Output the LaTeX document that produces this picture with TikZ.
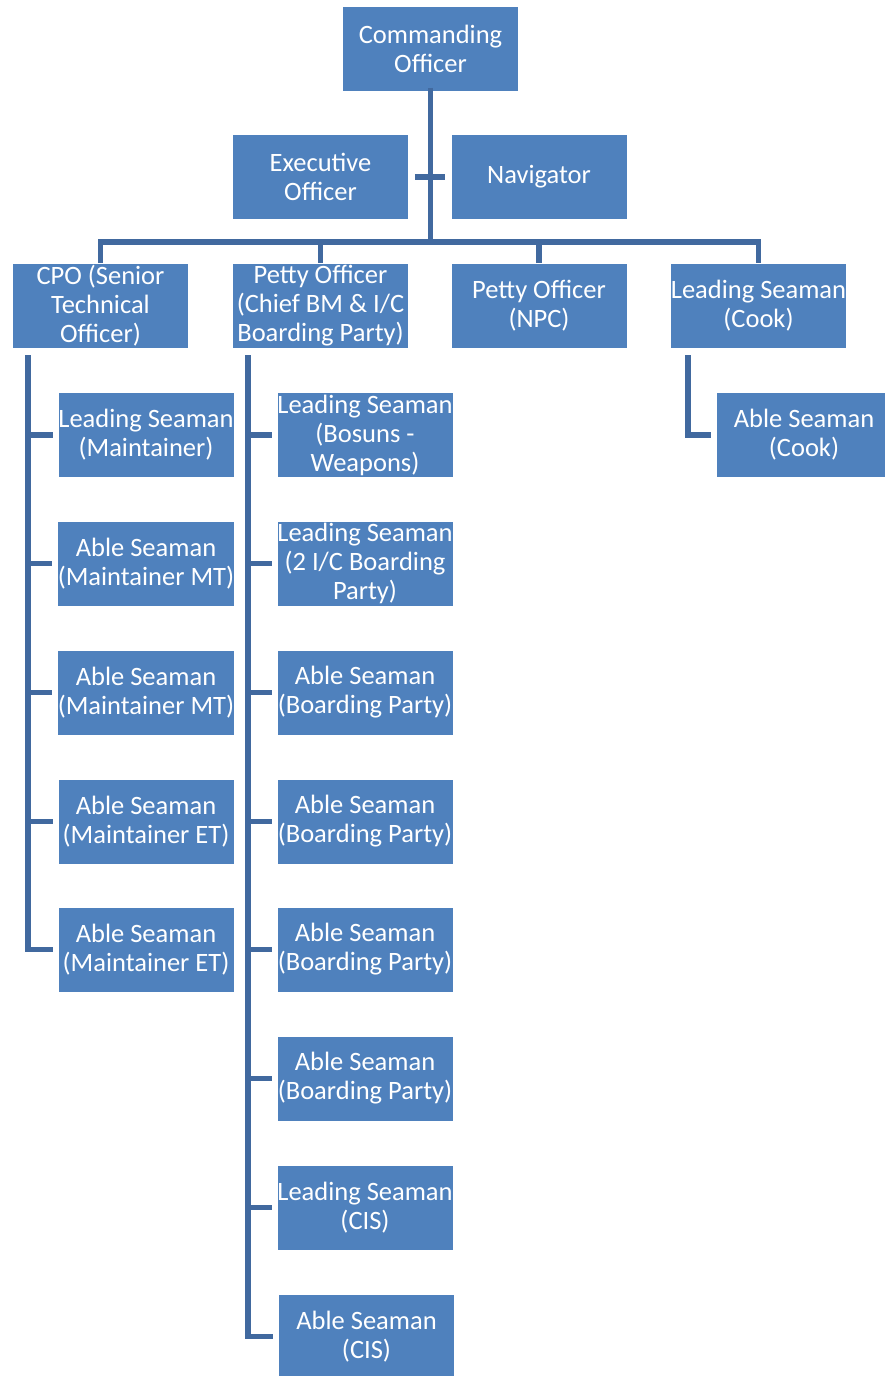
\documentclass[tikz,border=0pt]{standalone}
\usepackage{fontspec}
\setmainfont{Carlito}
\usetikzlibrary{positioning,calc}
\definecolor{rank}{HTML}{4F81BD}
\definecolor{link}{HTML}{41699F}

\begin{document}
\begin{tikzpicture}[x=1pt,y=-1pt,
  post/.style={draw=white,line width=0.6pt,fill=rank,text=white,
    minimum width=176pt,minimum height=85pt,inner sep=0pt,align=center,
    font=\fontsize{26.5}{29}\selectfont},
  wire/.style={draw=link,line width=5.5pt},
]
  \useasboundingbox (0,0) rectangle (884,1376);
  % command level
  \node[post] (co) at (430.5,49) {Commanding\\Officer};
  \node[post] (xo) at (320.5,177) {Executive\\Officer};
  \node[post] (nav) at (539,177) {Navigator};
  % department heads
  \node[post] (cpo) at (100.5,306) {CPO (Senior\\Technical\\Officer)};
  \node[post] (po) at (320.5,306) {Petty Officer\\(Chief BM \& I/C\\Boarding Party)};
  \node[post] (npc) at (539,306) {Petty Officer\\(NPC)};
  \node[post] (cook) at (758.5,306) {Leading Seaman\\(Cook)};
  % technical branch
  \node[post] (m1) at (146,435) {Leading Seaman\\(Maintainer)};
  \node[post] (m2) at (146,563.5) {Able Seaman\\(Maintainer MT)};
  \node[post] (m3) at (146,692.5) {Able Seaman\\(Maintainer MT)};
  \node[post] (m4) at (146,821.5) {Able Seaman\\(Maintainer ET)};
  \node[post] (m5) at (146,949.5) {Able Seaman\\(Maintainer ET)};
  % seamanship branch
  \node[post] (b1) at (365,435) {Leading Seaman\\(Bosuns -\\Weapons)};
  \node[post] (b2) at (365,563.5) {Leading Seaman\\(2 I/C Boarding\\Party)};
  \node[post] (b3) at (365,692.5) {Able Seaman\\(Boarding Party)};
  \node[post] (b4) at (365,821.5) {Able Seaman\\(Boarding Party)};
  \node[post] (b5) at (365,949.5) {Able Seaman\\(Boarding Party)};
  \node[post] (b6) at (365,1078.5) {Able Seaman\\(Boarding Party)};
  \node[post] (b7) at (365,1207.5) {Leading Seaman\\(CIS)};
  \node[post] (b8) at (366.5,1336.5) {Able Seaman\\(CIS)};
  % galley
  \node[post] (ab) at (804,435) {Able Seaman\\(Cook)};

  % connectors
  \coordinate (bus) at (430.5,242);
  \draw[wire] ([yshift=4]co.south) -- (bus);
  \draw[wire] ([xshift=6]xo.east) -- ([xshift=-6]nav.west);
  \draw[wire] (cpo.north) -- (cpo.north|-bus) -- (cook.north|-bus) -- (cook.north);
  \draw[wire] (po.north) -- (po.north|-bus);
  \draw[wire] (npc.north) -- (npc.north|-bus);

  \coordinate (mt) at (28,355);
  \draw[wire,shorten >=5pt] (mt) |- (m5.west);
  \foreach \n in {m1,m2,m3,m4}
    \draw[wire,shorten >=5pt] (mt|-\n.west) -- (\n.west);

  \coordinate (bt) at (248,355);
  \draw[wire,shorten >=5pt] (bt) |- (b8.west);
  \foreach \n in {b1,b2,b3,b4,b5,b6,b7}
    \draw[wire,shorten >=5pt] (bt|-\n.west) -- (\n.west);

  \draw[wire,shorten >=5pt] (688,355) |- (ab.west);
\end{tikzpicture}
\end{document}
